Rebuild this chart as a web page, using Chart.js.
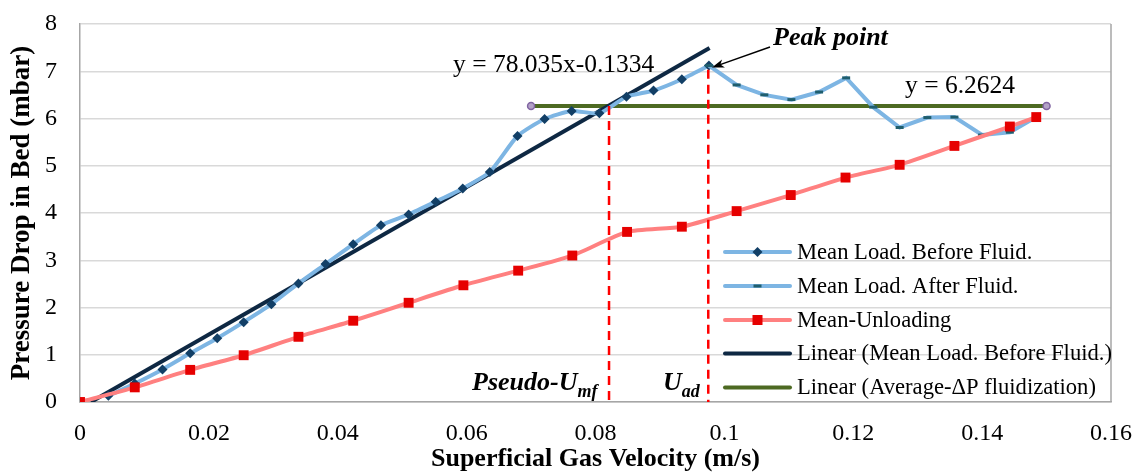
<!DOCTYPE html>
<html>
<head>
<meta charset="utf-8">
<script src="https://cdn.jsdelivr.net/npm/chart.js@4.4.0/dist/chart.umd.min.js"></script>
<style>
  html, body { margin: 0; padding: 0; background: #fff; }
  #wrap { width: 1139px; height: 473px; position: relative; }
</style>
</head>
<body>
<div id="wrap"><canvas id="chart"></canvas></div>
<script>
// ─── Data ──────────────────────────────────────────────────────────
const beforeX = [0.0044, 0.0085, 0.0128, 0.0171, 0.0213, 0.0254, 0.0297, 0.0339, 0.0381, 0.0424, 0.0467, 0.051,
                 0.0552, 0.0594, 0.0636, 0.0679, 0.0721, 0.0763, 0.0806, 0.0848, 0.089, 0.0934, 0.0976];
const beforeY = [0.13, 0.39, 0.69, 1.03, 1.35, 1.69, 2.07, 2.51, 2.92, 3.34, 3.74, 3.97,
                 4.24, 4.52, 4.87, 5.63, 5.99, 6.16, 6.11, 6.46, 6.59, 6.83, 7.12];

const afterX = [0.0976, 0.1019, 0.1062, 0.1104, 0.1147, 0.1189, 0.1231, 0.1272, 0.1315, 0.1357, 0.14, 0.1443, 0.1484];
const afterY = [7.12, 6.71, 6.50, 6.40, 6.56, 6.86, 6.24, 5.81, 6.02, 6.03, 5.65, 5.71, 6.03];

const unloadX = [0, 0.0085, 0.0171, 0.0254, 0.0339, 0.0424, 0.051, 0.0595, 0.068, 0.0764, 0.0849, 0.0934,
                 0.1019, 0.1103, 0.1188, 0.1272, 0.1357, 0.1443, 0.1484];
const unloadY = [0, 0.31, 0.68, 0.99, 1.38, 1.72, 2.10, 2.47, 2.78, 3.10, 3.60, 3.71,
                 4.04, 4.38, 4.75, 5.02, 5.42, 5.83, 6.03];

// trendline y = 78.035x - 0.1334 (end points as drawn)
const trendX = [0.0017, 0.0977];
const trendY = [0, 7.49];

// average dP during fluidization, y = 6.2624
const avgX = [0.07, 0.15];
const avgY = [6.2624, 6.2624];

// marker lines
const umfX = [0.0821, 0.0821];
const umfY = [6.2624, 0];
const uadX = [0.0975, 0.0975];
const uadY = [7.03, 0];

// peak point the arrow points at
const peak = { x: 0.0976, y: 7.12 };

const xTicks = [0, 0.02, 0.04, 0.06, 0.08, 0.1, 0.12, 0.14, 0.16];
const yTicks = [0, 1, 2, 3, 4, 5, 6, 7, 8];

const legendLabels = [
  'Mean Load. Before Fluid.',
  'Mean Load. After Fluid.',
  'Mean-Unloading',
  'Linear (Mean Load. Before Fluid.)',
  'Linear (Average-\u0394P fluidization)'
];

const C = {
  blueLine: '#7db5e3',
  navyMark: '#123f66',
  tealMark: '#1f5e6e',
  pinkLine: '#ff8080',
  redMark:  '#e60000',
  trend:    '#0e2843',
  green:    '#4d6a22',
  purple:   '#8064a2',
  dash:     '#ff0000',
  grid:     '#d9d9d9',
  axis:     '#a6a6a6',
};

const SERIF = "'Liberation Serif', 'Times New Roman', serif";

const pts = (xs, ys) => xs.map((x, i) => ({ x, y: ys[i] }));

/* ─── custom legend, annotations and frame ───────────────────────── */
const decor = {
  id: 'decor',
  afterDatasetsDraw(chart) {
    const { ctx, chartArea: a, scales: { x, y } } = chart;
    ctx.save();

    // right border of plot area
    ctx.strokeStyle = C.axis;
    ctx.lineWidth = 1.5;
    ctx.beginPath();
    ctx.moveTo(a.right, a.top);
    ctx.lineTo(a.right, a.bottom);
    ctx.stroke();

    ctx.fillStyle = '#000';
    ctx.textBaseline = 'alphabetic';
    ctx.textAlign = 'left';

    ctx.font = `25.5px ${SERIF}`;
    ctx.fillText('y = 78.035x-0.1334', 453, 72);
    ctx.fillText('y = 6.2624', 905, 93);

    ctx.font = `italic bold 26px ${SERIF}`;
    ctx.fillText('Peak point', 773, 45);

    // arrow to the peak
    const px = x.getPixelForValue(peak.x) + 3, py = y.getPixelForValue(peak.y) + 2;
    const sx = 770, sy = 47;
    const ang = Math.atan2(py - sy, px - sx);
    ctx.strokeStyle = '#000';
    ctx.lineWidth = 1.5;
    ctx.beginPath();
    ctx.moveTo(sx, sy);
    ctx.lineTo(px - 8 * Math.cos(ang), py - 8 * Math.sin(ang));
    ctx.stroke();
    ctx.beginPath();
    ctx.moveTo(px, py);
    ctx.lineTo(px - 13 * Math.cos(ang - 0.33), py - 13 * Math.sin(ang - 0.33));
    ctx.lineTo(px - 9 * Math.cos(ang), py - 9 * Math.sin(ang));
    ctx.lineTo(px - 13 * Math.cos(ang + 0.33), py - 13 * Math.sin(ang + 0.33));
    ctx.closePath();
    ctx.fillStyle = '#000';
    ctx.fill();

    // Pseudo-Umf and Uad labels
    ctx.font = `italic bold 26px ${SERIF}`;
    ctx.fillText('Pseudo-U', 472, 390);
    let w = ctx.measureText('Pseudo-U').width;
    ctx.font = `italic bold 18px ${SERIF}`;
    ctx.fillText('mf', 472 + w, 397);
    ctx.font = `italic bold 26px ${SERIF}`;
    ctx.fillText('U', 663, 390);
    w = ctx.measureText('U').width;
    ctx.font = `italic bold 18px ${SERIF}`;
    ctx.fillText('ad', 663 + w, 397);

    // legend
    const rows = [252, 286, 320, 353.5, 387.5];
    const lx0 = 725, lx1 = 790, tx = 797;
    const lineCols = [C.blueLine, C.blueLine, C.pinkLine, C.trend, C.green];
    ctx.font = `22.6px ${SERIF}`;
    ctx.textBaseline = 'middle';
    rows.forEach((ry, i) => {
      ctx.strokeStyle = lineCols[i];
      ctx.lineWidth = 4;
      ctx.lineCap = 'round';
      ctx.beginPath();
      ctx.moveTo(lx0, ry);
      ctx.lineTo(lx1, ry);
      ctx.stroke();
      const mx = (lx0 + lx1) / 2;
      if (i === 0) {
        ctx.fillStyle = C.navyMark;
        ctx.beginPath();
        ctx.moveTo(mx, ry - 5); ctx.lineTo(mx + 5, ry); ctx.lineTo(mx, ry + 5); ctx.lineTo(mx - 5, ry);
        ctx.closePath(); ctx.fill();
      } else if (i === 1) {
        ctx.fillStyle = C.tealMark;
        ctx.fillRect(mx - 4, ry - 1.5, 8, 3);
      } else if (i === 2) {
        ctx.fillStyle = C.redMark;
        ctx.fillRect(mx - 5, ry - 5, 10, 10);
      }
      ctx.fillStyle = '#000';
      ctx.fillText(legendLabels[i], tx, ry + 1);
    });

    ctx.restore();
  }
};

new Chart(document.getElementById('chart'), {
  type: 'scatter',
  data: {
    datasets: [
      {
        label: 'umf', data: pts(umfX, umfY), showLine: true,
        borderColor: C.dash, borderWidth: 2.5, borderDash: [9, 6], pointRadius: 0, order: 0,
      },
      {
        label: 'uad', data: pts(uadX, uadY), showLine: true,
        borderColor: C.dash, borderWidth: 2.5, borderDash: [9, 6], pointRadius: 0, order: 0,
      },
      {
        label: legendLabels[2], data: pts(unloadX, unloadY), showLine: true, tension: 0.2,
        borderColor: C.pinkLine, borderWidth: 4,
        pointStyle: 'rect', pointRadius: 7, pointBackgroundColor: C.redMark, pointBorderWidth: 0,
        order: 1,
      },
      {
        label: legendLabels[1], data: pts(afterX, afterY), showLine: true, tension: 0,
        borderColor: C.blueLine, borderWidth: 4,
        pointStyle: 'line', pointRadius: 4, pointBorderColor: C.tealMark, pointBorderWidth: 3,
        order: 2,
      },
      {
        label: legendLabels[0], data: pts(beforeX, beforeY), showLine: true, tension: 0.2,
        borderColor: C.blueLine, borderWidth: 4,
        pointStyle: 'rectRot', pointRadius: 5, pointBackgroundColor: C.navyMark, pointBorderWidth: 0,
        order: 2,
      },
      {
        label: legendLabels[3], data: pts(trendX, trendY), showLine: true,
        borderColor: C.trend, borderWidth: 4, pointRadius: 0, order: 3,
      },
      {
        label: legendLabels[4], data: pts(avgX, avgY), showLine: true,
        borderColor: C.green, borderWidth: 4,
        pointRadius: 3.5, pointBackgroundColor: '#b3a2c7', pointBorderColor: C.purple, pointBorderWidth: 1.5,
        order: 4,
      },
    ]
  },
  options: {
    responsive: true, maintainAspectRatio: false, animation: false,
    layout: { padding: { left: 0, right: 28, top: 24, bottom: 0 } },
    plugins: { legend: { display: false }, tooltip: { enabled: false } },
    scales: {
      x: {
        type: 'linear', min: 0, max: 0.16,
        afterFit: s => { s.height = 71; s.paddingLeft = 0; s.paddingRight = 0; },
        afterBuildTicks: s => { s.ticks = xTicks.map(v => ({ value: v })); },
        grid: { display: false, drawTicks: false },
        border: { color: C.axis, width: 1.5 },
        ticks: {
          color: '#000', padding: 17, font: { family: SERIF, size: 24 },
          callback: v => String(+v.toFixed(2))
        },
        title: {
          display: true, text: 'Superficial Gas Velocity (m/s)', color: '#000',
          font: { family: SERIF, size: 26, weight: 'bold', lineHeight: 1.0 },
          padding: { top: 0, bottom: 1 }
        }
      },
      y: {
        type: 'linear', min: 0, max: 8,
        afterFit: s => { s.width = 80; s.paddingTop = 0; s.paddingBottom = 0; },
        afterBuildTicks: s => { s.ticks = yTicks.map(v => ({ value: v })); },
        grid: { color: C.grid, lineWidth: 1.5, drawTicks: false },
        border: { color: C.axis, width: 1.5 },
        ticks: { color: '#000', padding: 23, font: { family: SERIF, size: 24 } },
        title: {
          display: true, text: 'Pressure Drop in Bed (mbar)', color: '#000',
          font: { family: SERIF, size: 27, weight: 'bold', lineHeight: 1.0 },
          padding: { top: 9, bottom: 0 }
        }
      }
    }
  },
  plugins: [decor]
});
</script>
</body>
</html>
